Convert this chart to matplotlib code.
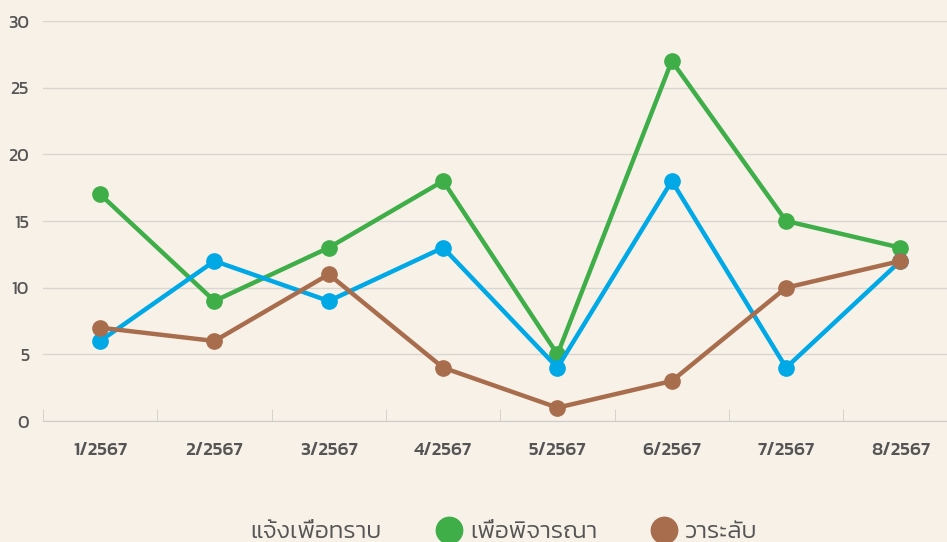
import numpy as np
import matplotlib.pyplot as plt
from matplotlib import font_manager
from matplotlib.lines import Line2D

months = ["1/2567", "2/2567", "3/2567", "4/2567", "5/2567", "6/2567", "7/2567", "8/2567"]
inform = [6, 12, 9, 13, 4, 18, 4, 12]       # แจ้งเพื่อทราบ
consider = [17, 9, 13, 18, 5, 27, 15, 13]   # เพื่อพิจารณา
agenda = [7, 6, 11, 4, 1, 3, 10, 12]        # วาระลับ
names = ["แจ้งเพื่อทราบ", "เพื่อพิจารณา", "วาระลับ"]

# Kanit files (Thai font like the reference)
files = {}
for f in font_manager.findSystemFonts():
    files[f.split("/")[-1]] = f

def kanit(style, size):
    fn = files.get("Kanit-%s.ttf" % style)
    if fn:
        return font_manager.FontProperties(fname=fn, size=size)
    return font_manager.FontProperties(family=["Noto Sans Thai", "DejaVu Sans"], size=size)

bg = "#f7f1e8"
c_blue = "#00a8e6"
c_green = "#3fae49"
c_brown = "#a86d4d"
grey = "#555555"

fig = plt.figure(figsize=(9.47, 5.42), dpi=100, facecolor=bg)
ax = fig.add_axes([43/947, 121/542, 914.6/947, 400/542], facecolor=bg)

x = np.arange(len(months))
ax.plot(x, consider, color=c_green, lw=3.2, marker="o", ms=11, zorder=3)
ax.plot(x, inform, color=c_blue, lw=3.2, marker="o", ms=11, zorder=4)
ax.plot(x, agenda, color=c_brown, lw=3.2, marker="o", ms=11, zorder=5)

ax.set_xlim(-0.5, len(months) - 0.5)
ax.set_ylim(0, 30)
ax.set_yticks(range(0, 31, 5))
ax.yaxis.grid(True, color="#d9d6d0", lw=1)
ax.set_axisbelow(True)
for s in ["top", "right", "left"]:
    ax.spines[s].set_visible(False)
ax.spines["bottom"].set_color("#d0cdc8")
ax.tick_params(axis="y", length=0, pad=10, labelcolor=grey)
for lab in ax.get_yticklabels():
    lab.set_fontproperties(kanit("Regular", 13))
ax.set_xticks(x)
ax.set_xticklabels(months)
ax.tick_params(axis="x", length=0, pad=15, labelcolor=grey)
for lab in ax.get_xticklabels():
    lab.set_fontproperties(kanit("Medium", 13.5))
ax.set_xticks(np.arange(-0.5, len(months)), minor=True)
ax.tick_params(axis="x", which="minor", direction="in", length=9, color="#d0cdc8")

handles = [
    Line2D([], [], ls="none", marker="o", ms=0, color=c_blue),
    Line2D([], [], ls="none", marker="o", ms=19, color=c_green),
    Line2D([], [], ls="none", marker="o", ms=19, color=c_brown),
]
fig.legend(handles, names, loc="center", bbox_to_anchor=(0.514, 10/542), ncol=3,
           frameon=False, prop=kanit("Light", 17.5), labelcolor=grey, handletextpad=0.33,
           columnspacing=2.2, handlelength=1.1, borderpad=0)

fig.savefig("out.png", dpi=100, facecolor=bg)
